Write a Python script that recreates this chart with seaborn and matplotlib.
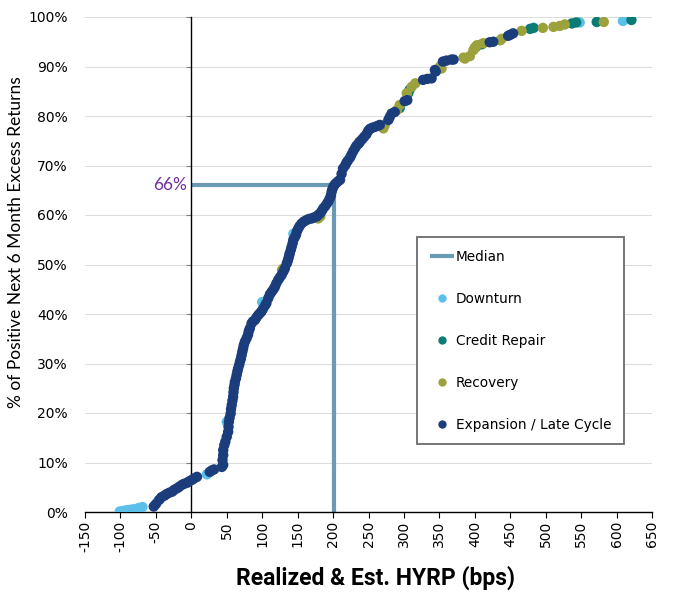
import numpy as np
import pandas as pd
import matplotlib
matplotlib.use("Agg")
import matplotlib.pyplot as plt
from matplotlib.lines import Line2D
import seaborn as sns

# Data (x = bps, y = % of positive next 6m excess returns)
downturn_x = [-101, -97, -93, -89, -84, -79, -74, -69, -47, 22, 50, 100, 144, 548, 609]
downturn_y = [0.1, 0.2, 0.3, 0.4, 0.5, 0.6, 0.8, 1.0, 2.2, 7.6, 18.2, 42.4, 56.2, 98.9, 99.2]

credit_x = [294, 306, 308, 402, 410, 478, 483, 537, 543, 572, 621]
credit_y = [81.6, 84.6, 85.3, 94.0, 94.5, 97.6, 97.8, 98.7, 98.9, 99.0, 99.4]

recovery_x = [128, 130, 179, 182, 237, 271, 273, 290, 294, 304, 311, 316, 351, 353,
              384, 386, 393, 398, 400, 403, 412, 436, 438, 466, 496, 511, 520, 527, 582]
recovery_y = [48.9, 49.2, 59.3, 59.7, 74.8, 77.5, 78.2, 81.2, 82.2, 84.6, 85.9, 86.6, 90.0, 89.6,
              91.8, 91.6, 92.1, 93.3, 93.8, 94.3, 94.7, 95.3, 95.6, 97.2, 97.8, 98.0, 98.2, 98.5, 99.0]

expansion_x = [-53, -50, -45, -42, -38, -35, -31, -27, -24, -20, -17, -13, -10, -6, -3, 1, 4, 8,
               26, 29, 32, 43, 45, 44, 45, 45, 46.5, 48, 50, 52, 52.5, 53, 54, 55.5, 56, 57, 58,
               59, 59.5, 60, 61, 61.5, 63, 64, 65, 66, 67.5, 68.7, 70, 71, 72, 73, 74, 75.6, 78,
               80, 81, 82.6, 85, 87, 89.8, 92, 94.5, 97, 99, 101, 104, 106, 108.6, 111, 113.4,
               116, 118, 120, 122.7, 125, 127.5, 130, 132, 134.7, 136, 137, 138, 139, 140.5,
               141.6, 143, 143.9, 146, 147.7, 149, 151, 153, 155.7, 159, 162.8, 166, 169.8, 173,
               176.9, 179, 181.5, 184, 186, 189, 191.8, 194, 195.6, 197, 198, 199, 200.3, 202,
               204, 207, 209.8, 212, 214, 217, 219, 221, 224, 226, 228.5, 231, 233, 236, 238,
               241, 244, 247, 249.6, 252, 255, 259, 263, 266, 278, 280, 282.6, 287, 301, 304.7,
               327, 333, 339, 343.7, 345, 355, 360, 367, 370, 421, 426, 447, 450, 454]
expansion_y = [1.1, 1.6, 2.5, 3.0, 3.3, 3.6, 3.9, 4.1, 4.5, 4.8, 5.1, 5.5, 5.7, 5.9, 6.2, 6.5, 6.8, 7.1,
               8.1, 8.4, 8.6, 9.1, 9.5, 10.5, 11.5, 12.5, 13.5, 14.2, 15.2, 16.2, 17.2, 18.2, 19.0,
               19.9, 20.8, 21.6, 22.5, 23.3, 24.2, 25.0, 25.7, 26.3, 27.0, 27.7, 28.4, 29.0, 29.7,
               30.4, 31.0, 31.7, 32.4, 33.0, 33.7, 34.4, 35.1, 35.8, 36.5, 37.1, 38.1, 38.5, 38.8,
               39.3, 39.8, 40.2, 40.5, 41.0, 41.7, 42.2, 43.2, 44.0, 44.5, 45.0, 45.5, 46.2, 46.9,
               47.4, 47.9, 48.6, 49.2, 50.2, 50.7, 51.2, 51.8, 52.3, 53.0, 53.6, 54.3, 55.0, 55.5,
               56.0, 56.7, 57.3, 57.8, 58.3, 58.7, 59.0, 59.2, 59.3, 59.5, 59.7, 60.0, 60.3, 60.8,
               61.3, 61.8, 62.4, 62.9, 63.4, 64.0, 64.7, 65.2, 65.7, 66.1, 66.4, 66.8, 67.1, 68.3,
               69.4, 70.0, 70.6, 71.0, 71.6, 72.2, 72.9, 73.5, 74.0, 74.4, 74.8, 75.3, 75.8, 76.3,
               77.0, 77.4, 77.6, 77.8, 78.0, 78.2, 79.2, 79.8, 80.5, 80.8, 83.0, 83.2, 87.3, 87.5,
               87.6, 89.3, 89.0, 91.0, 91.2, 91.4, 91.4, 94.9, 95.0, 96.2, 96.4, 96.7]

phases = ["Downturn", "Credit Repair", "Recovery", "Expansion / Late Cycle"]
colors = ["#5CBFEA", "#0B7B76", "#9BA23C", "#1C3D7C"]
median_x = 201
median_y = 66
y_ticks = list(range(0, 101, 10))
x_ticks = list(range(-150, 651, 50))

df = pd.concat([
    pd.DataFrame({"x": downturn_x, "y": downturn_y, "phase": phases[0]}),
    pd.DataFrame({"x": credit_x, "y": credit_y, "phase": phases[1]}),
    pd.DataFrame({"x": recovery_x, "y": recovery_y, "phase": phases[2]}),
    pd.DataFrame({"x": expansion_x, "y": expansion_y, "phase": phases[3]}),
], ignore_index=True)

sns.set_style("white")
plt.rcParams["font.family"] = ["DejaVu Sans"]
plt.rcParams["axes.unicode_minus"] = False
plt.rcParams["text.color"] = "black"

fig = plt.figure(figsize=(6.84, 5.99), dpi=100)
ax = fig.add_axes([85 / 684, 1 - 512 / 599, 567 / 684, 495 / 599])

med_color = "#6A9AB6"
ax.plot([0, median_x, median_x], [median_y, median_y, 0], color=med_color, lw=3,
        solid_capstyle="butt", zorder=2)

sns.scatterplot(data=df, x="x", y="y", hue="phase", hue_order=phases,
                palette=dict(zip(phases, colors)), s=56, linewidth=0, legend=False,
                ax=ax, zorder=3)

ax.set_xlim(-150, 650)
ax.set_ylim(0, 100)
ax.set_xticks(x_ticks)
ax.set_xticklabels([str(v) for v in x_ticks], rotation=90, fontsize=10)
ax.set_yticks(y_ticks)
ax.set_yticklabels([f"{v}%" for v in y_ticks], family="Lato", fontsize=11)
ax.set_xlabel("")
ax.set_ylabel("")

ax.yaxis.grid(True, color="#DDDDDD", lw=0.8)
ax.set_axisbelow(True)
for s in ["top", "right"]:
    ax.spines[s].set_visible(False)
ax.spines["left"].set_position(("data", 0))
ax.spines["left"].set_color("black")
ax.spines["bottom"].set_color("black")
ax.spines["left"].set_linewidth(1)
ax.spines["bottom"].set_linewidth(1)
ax.tick_params(axis="y", direction="out", length=3.5, color="#808080", labelcolor="black",
               pad=85.3, left=True)
ax.tick_params(axis="x", direction="out", length=4, color="black", labelcolor="black",
               pad=2.5, bottom=True)

ax.text(-6, median_y, f"{median_y}%", ha="right", va="center", color="#7030A0",
        family="Lato", fontsize=12.5)

fig.text(16 / 684, 1 - 242 / 599, "% of Positive Next 6 Month Excess Returns",
         rotation=90, ha="center", va="center", family="Lato", fontsize=12.5)
fig.text(375 / 684, 1 - 578 / 599, "Realized & Est. HYRP (bps)", ha="center", va="center",
         fontsize=16.5, fontweight="bold", family="Roboto")

handles = [Line2D([], [], color=med_color, lw=3, solid_capstyle="butt")]
handles += [Line2D([], [], ls="", marker="o", markersize=6, markerfacecolor=c,
                   markeredgewidth=0) for c in colors]
leg = ax.legend(handles, ["Median"] + phases, loc="upper left",
                bbox_to_anchor=(0.5855, 0.5556), fontsize=9.8, frameon=True,
                fancybox=False, framealpha=1, edgecolor="#6B6B6B", labelspacing=2.05,
                borderpad=0.95, handlelength=1.8, handletextpad=0.1, borderaxespad=0)
leg.get_frame().set_linewidth(1.3)
for t in leg.get_texts():
    t.set_color("black")

fig.savefig("out.png", dpi=100)
